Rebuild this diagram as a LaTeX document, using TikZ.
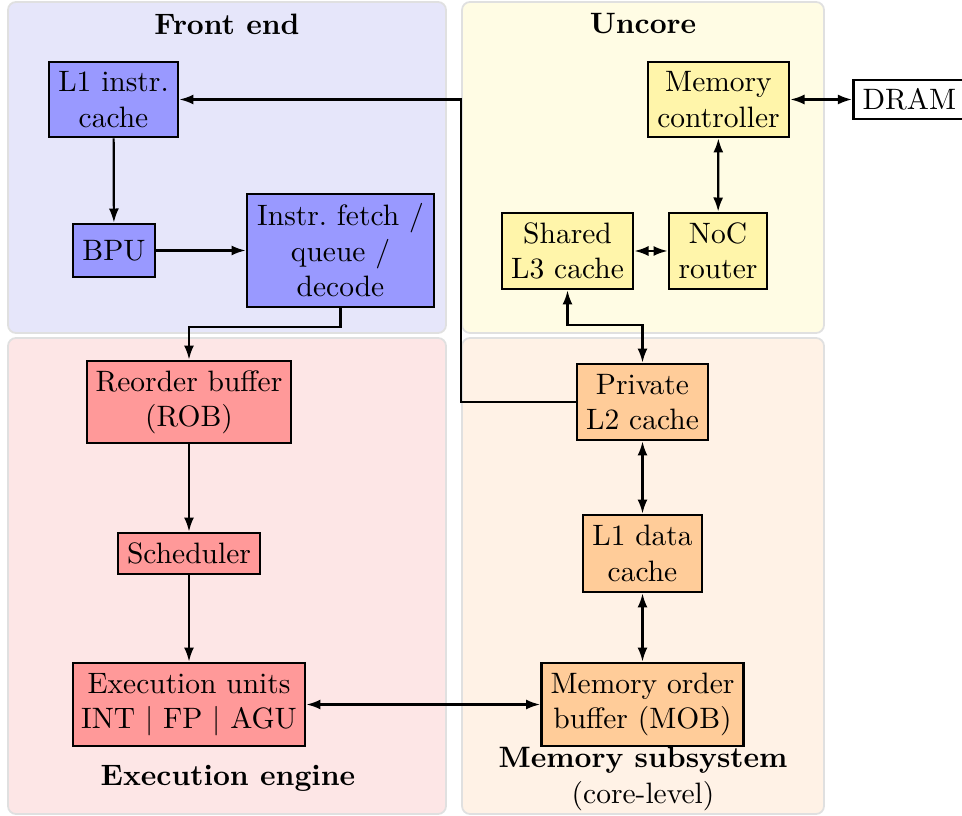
\documentclass[tikz,border=0pt]{standalone}
\usetikzlibrary{arrows.meta,calc}
\definecolor{feBg}{RGB}{230,230,250}
\definecolor{feNode}{RGB}{153,153,255}
\definecolor{unBg}{RGB}{255,252,228}
\definecolor{unNode}{RGB}{255,245,170}
\definecolor{exBg}{RGB}{253,230,230}
\definecolor{exNode}{RGB}{255,153,153}
\definecolor{msBg}{RGB}{255,242,230}
\definecolor{msNode}{RGB}{255,204,153}
\begin{document}
\begin{tikzpicture}[x=0.339pt,y=-0.339pt,
  region/.style={draw=black!12,line width=0.6pt,rounded corners=2.7pt},
  blk/.style={draw=black,line width=0.9pt,align=center,inner sep=0pt,font=\normalsize},
  tip/.tip={Latex[length=4.8pt,width=3.4pt]},
  arr/.style={line width=0.75pt,-tip},
  darr/.style={line width=0.75pt,tip-tip},
  ttl/.style={font=\bfseries}]
\useasboundingbox (0,0) rectangle (962,816);
% regions
\draw[region,fill=feBg] (8,2) rectangle (446,333);
\draw[region,fill=unBg] (462,2) rectangle (824,333);
\draw[region,fill=exBg] (8,338) rectangle (446,814);
\draw[region,fill=msBg] (462,338) rectangle (824,814);
% titles
\node[ttl] (tfe) at (227,24) {Front end};
\node[ttl] (tun) at (643,24) {Uncore};
\node[ttl] (tex) at (228,778) {Execution engine};
\node[ttl] (tms) at (643,760) {Memory subsystem};
\node (tms2) at (643,796) {(core-level)};
% front end
\node[blk,fill=feNode,minimum width=129*0.339pt,minimum height=75*0.339pt] (l1i) at (113.5,99.5) {L1 instr.\\cache};
\node[blk,fill=feNode,minimum width=82*0.339pt,minimum height=53*0.339pt] (bpu) at (114,250.5) {BPU};
\node[blk,fill=feNode,minimum width=187*0.339pt,minimum height=113*0.339pt] (ifd) at (340.5,250.5) {Instr.\ fetch /\\queue /\\decode};
% execution
\node[blk,fill=exNode,minimum width=204*0.339pt,minimum height=82*0.339pt] (rob) at (189,402) {Reorder buffer\\(ROB)};
\node[blk,fill=exNode,minimum width=142*0.339pt,minimum height=41*0.339pt] (sch) at (189,553.5) {Scheduler};
\node[blk,fill=exNode,minimum width=232*0.339pt,minimum height=83*0.339pt] (eu) at (189,704.5) {Execution units\\INT $|$ FP $|$ AGU};
% uncore
\node[blk,fill=unNode,minimum width=141*0.339pt,minimum height=75*0.339pt] (mc) at (718.5,99.5) {Memory\\controller};
\node[blk,fill=white,minimum width=112*0.339pt,minimum height=39*0.339pt,anchor=west] (dram) at (852,99.5) {DRAM};
\node[blk,fill=unNode,minimum width=131*0.339pt,minimum height=76*0.339pt] (l3) at (567.5,251) {Shared\\L3 cache};
\node[blk,fill=unNode,minimum width=98*0.339pt,minimum height=76*0.339pt] (noc) at (718,251) {NoC\\router};
% memory subsystem
\node[blk,fill=msNode,minimum width=131*0.339pt,minimum height=76*0.339pt] (l2) at (642.5,402) {Private\\L2 cache};
\node[blk,fill=msNode,minimum width=119*0.339pt,minimum height=77*0.339pt] (l1d) at (642.5,553.5) {L1 data\\cache};
\node[blk,fill=msNode,minimum width=202*0.339pt,minimum height=83*0.339pt] (mob) at (642.5,704.5) {Memory order\\buffer (MOB)};
% helper coordinates
\coordinate (j1) at (0,327);
\coordinate (j2) at (0,325);
\coordinate (k) at (461,0);
% connectors
\draw[arr] (l1i) -- (bpu);
\draw[arr] (bpu) -- (ifd);
\draw[arr] (ifd.south) -- (ifd.south |- j1) -| (rob.north);
\draw[arr] (rob) -- (sch);
\draw[arr] (sch) -- (eu);
\draw[darr] (eu) -- (mob);
\draw[darr] (mob) -- (l1d);
\draw[darr] (l1d) -- (l2);
\draw[arr] (l2.west) -| (k |- l1i.east) -- (l1i.east);
\draw[darr] (l3.south) -- (l3.south |- j2) -| (l2.north);
\draw[darr] (l3) -- (noc);
\draw[darr] (noc) -- (mc);
\draw[darr] (mc) -- (dram);
\end{tikzpicture}
\end{document}
